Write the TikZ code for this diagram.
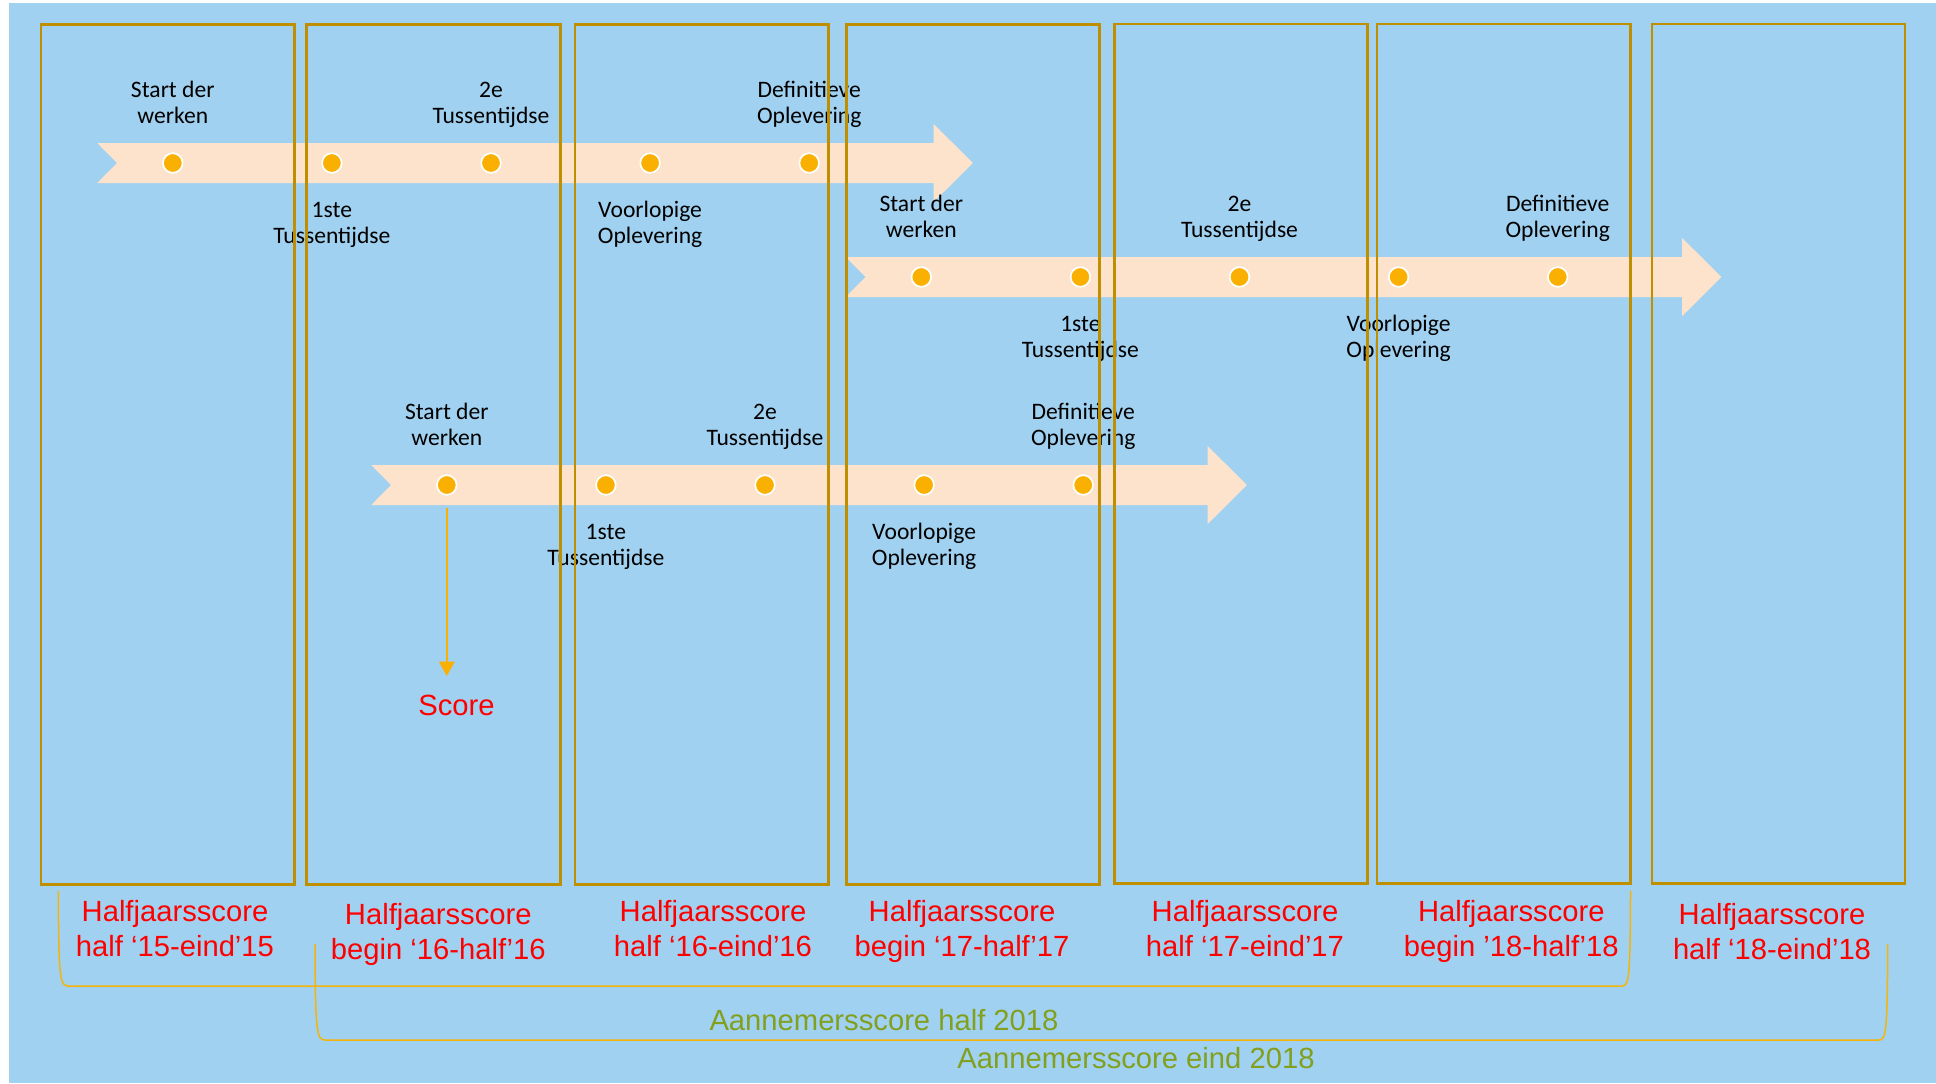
\documentclass[tikz,border=0pt]{standalone}
\usepackage{fontspec}
\setmainfont{Liberation Sans}
\newfontfamily\calfont{Carlito}
\usetikzlibrary{arrows.meta}

\definecolor{achtergrond}{HTML}{A1D1F0}
\definecolor{lint}{HTML}{FDE3CB}
\definecolor{stip}{HTML}{F9B000}
\definecolor{kader}{HTML}{BF8F00}
\definecolor{haak}{HTML}{F5B40A}
\definecolor{olijf}{HTML}{82A01E}

\newcommand{\twolines}[2]{\strut#1\\\strut#2}

\tikzset{
  ribbon/.style={fill=lint},
  milestone/.style={circle, fill=stip, draw=white, line width=0.85pt, minimum size=9.8pt, inner sep=0pt},
  mstext/.style={font=\calfont\fontsize{11.8}{13}\selectfont, align=center, inner sep=0pt},
  period/.style={draw=kader, line width=1.3pt},
  halfscore/.style={font=\fontsize{14.6}{17.5}\selectfont, text=red, align=center, inner sep=0pt},
  totscore/.style={font=\fontsize{14.6}{17.5}\selectfont, text=olijf, inner sep=0pt},
  scorebracket/.style={draw=haak, line width=0.75pt},
}

\begin{document}
\begin{tikzpicture}[x=0.5pt, y=-0.5pt]
          \useasboundingbox (0,0) rectangle (1936,1083);
          \fill [white] (0,0) rectangle (1936,1083);
          \fill [achtergrond] (9,3) rectangle (1936,1083); % Draws the background

          \fill [ribbon] (97.3,143) -- (933.5,143) -- (933.5,123.8) -- (972.8,163) -- (933.5,202.2) -- (933.5,183) -- (97.3,183) -- (117,163) -- cycle; % Draws a ribbon
          \fill [ribbon] (845.8,257) -- (1682,257) -- (1682,237.8) -- (1721.3,277) -- (1682,316.2) -- (1682,297) -- (845.8,297) -- (865.5,277) -- cycle; % Draws a ribbon
          \fill [ribbon] (371.3,465) -- (1207.5,465) -- (1207.5,445.8) -- (1246.8,485) -- (1207.5,524.2) -- (1207.5,505) -- (371.3,505) -- (391,485) -- cycle; % Draws a ribbon

          \node [milestone] (d11) at (172.8,163) {};
          \node [milestone] (d12) at (331.9,163) {};
          \node [milestone] (d13) at (491.0,163) {};
          \node [milestone] (d14) at (650.1,163) {};
          \node [milestone] (d15) at (809.2,163) {};

          \node [milestone] (d21) at (921.3,277) {};
          \node [milestone] (d22) at (1080.4,277) {};
          \node [milestone] (d23) at (1239.5,277) {};
          \node [milestone] (d24) at (1398.6,277) {};
          \node [milestone] (d25) at (1557.7,277) {};

          \node [milestone] (d31) at (446.8,485) {};
          \node [milestone] (d32) at (605.9,485) {};
          \node [milestone] (d33) at (765.0,485) {};
          \node [milestone] (d34) at (924.1,485) {};
          \node [milestone] (d35) at (1083.2,485) {};

          \node [mstext] (t11) at ([yshift=28.95pt]d11) {\twolines{Start der}{werken}};
          \node [mstext] (t12) at ([yshift=-31.05pt]d12) {\twolines{1ste}{Tussentijdse}};
          \node [mstext] (t13) at ([yshift=28.95pt]d13) {\twolines{2e}{Tussentijdse}};
          \node [mstext] (t14) at ([yshift=-31.05pt]d14) {\twolines{Voorlopige}{Oplevering}};
          \node [mstext] (t15) at ([yshift=28.95pt]d15) {\twolines{Definitieve}{Oplevering}};

          \node [mstext] (t21) at ([yshift=28.95pt]d21) {\twolines{Start der}{werken}};
          \node [mstext] (t22) at ([yshift=-31.05pt]d22) {\twolines{1ste}{Tussentijdse}};
          \node [mstext] (t23) at ([yshift=28.95pt]d23) {\twolines{2e}{Tussentijdse}};
          \node [mstext] (t24) at ([yshift=-31.05pt]d24) {\twolines{Voorlopige}{Oplevering}};
          \node [mstext] (t25) at ([yshift=28.95pt]d25) {\twolines{Definitieve}{Oplevering}};

          \node [mstext] (t31) at ([yshift=28.95pt]d31) {\twolines{Start der}{werken}};
          \node [mstext] (t32) at ([yshift=-31.05pt]d32) {\twolines{1ste}{Tussentijdse}};
          \node [mstext] (t33) at ([yshift=28.95pt]d33) {\twolines{2e}{Tussentijdse}};
          \node [mstext] (t34) at ([yshift=-31.05pt]d34) {\twolines{Voorlopige}{Oplevering}};
          \node [mstext] (t35) at ([yshift=28.95pt]d35) {\twolines{Definitieve}{Oplevering}};

          \node [halfscore, anchor=base] (score) at (456.5,715.7) {Score};
          \coordinate (scoretip) at (d31 |- 0,676);
          \draw [stip, line width=1pt, shorten <=6pt, arrows=-{Triangle[length=7.2pt,width=7.7pt]}] (d31) -- (scoretip);

          \draw [period] (41,24.7) rectangle (294.2,884.5); % Draws a period box
          \draw [period] (306.7,24.7) rectangle (560.3,884.5); % Draws a period box
          \draw [period] (575,24.7) rectangle (828.6,884.5); % Draws a period box
          \draw [period] (846.4,24.7) rectangle (1099.6,884.5); % Draws a period box
          \draw [period] (1114.3,24) rectangle (1367.3,883.5); % Draws a period box
          \draw [period] (1377.1,24) rectangle (1630.6,883.5); % Draws a period box
          \draw [period] (1652.1,24) rectangle (1904.9,883.5); % Draws a period box

          \node [halfscore] (h1) at (175,932.2) {\twolines{Halfjaarsscore}{half ‘15-eind’15}};
          \node [halfscore] (h2) at (438.3,934.5) {\twolines{Halfjaarsscore}{begin ‘16-half’16}};
          \node [halfscore] (h3) at (713,932.2) {\twolines{Halfjaarsscore}{half ‘16-eind’16}};
          \node [halfscore] (h4) at (962,932.2) {\twolines{Halfjaarsscore}{begin ‘17-half’17}};
          \node [halfscore] (h5) at (1245,932.2) {\twolines{Halfjaarsscore}{half ‘17-eind’17}};
          \node [halfscore] (h6) at (1511.3,932.2) {\twolines{Halfjaarsscore}{begin ’18-half’18}};
          \node [halfscore] (h7) at (1772,934.5) {\twolines{Halfjaarsscore}{half ‘18-eind’18}};

          \draw [scorebracket] (58.3,891) .. controls (58.6,978) and (60,986) .. (68,986) -- (1622,986) .. controls (1629,986) and (1630.3,978) .. (1630.5,890.7);
          \draw [scorebracket] (315,944) .. controls (315.3,1032) and (316.7,1040) .. (325,1040) -- (1879,1040) .. controls (1886,1040) and (1887.4,1032) .. (1887.7,944);

          \node [totscore, anchor=base] (a1) at (884,1030.7) {Aannemersscore half 2018};
          \node [totscore, anchor=base] (a2) at (1136,1068.3) {Aannemersscore eind 2018};
          % \draw [thick] (d35) -- (d21);
\end{tikzpicture}
\end{document}
